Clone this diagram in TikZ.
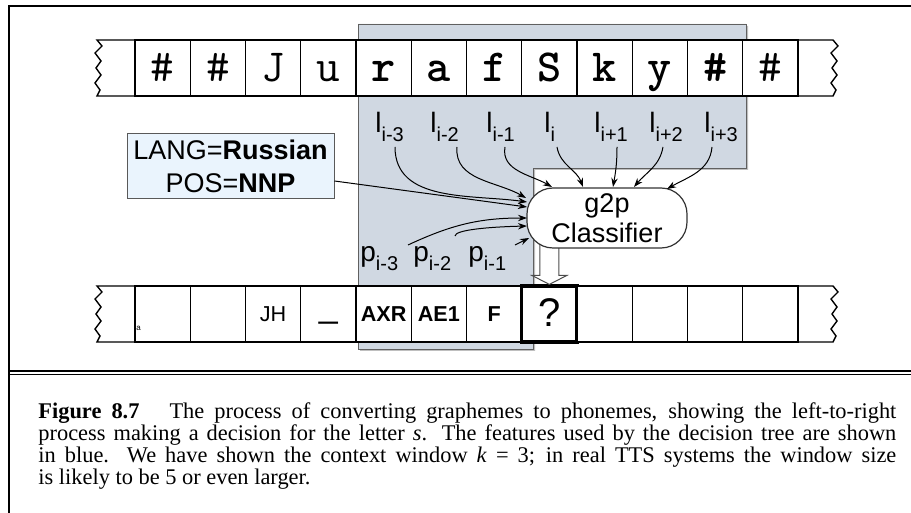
\documentclass[tikz,border=0pt]{standalone}
\usepackage{fontspec}
\setmainfont{Liberation Serif}
\setsansfont{Liberation Sans}
\usetikzlibrary{positioning,arrows.meta,calc}

\definecolor{winfill}{RGB}{208,216,226}
\definecolor{featfill}{RGB}{234,244,253}
% letter with a lowered index, as in the feature labels
\newcommand{\sublab}[2]{#1\raisebox{-4.5pt}{\fontsize{10}{10}\selectfont #2}}

\begin{document}
\begin{tikzpicture}[x=0.5pt,y=-0.5pt,
    cell/.style={draw, fill=white, line width=0.7pt, minimum width=27.625pt,
                 minimum height=28pt, inner sep=0pt},
    gcell/.style={cell, font=\ttfamily\fontsize{23}{23}\selectfont, text height=17pt, text depth=3pt},
    pcell/.style={cell, font=\sffamily\fontsize{10.8}{10.8}\selectfont, text height=10pt, text depth=2pt},
    ucell/.style={cell, font=\sffamily\fontsize{17}{17}\selectfont, text height=6pt, text depth=2pt},
    qcell/.style={cell, line width=1.6pt, font=\sffamily\fontsize{20}{20}\selectfont,
                  text height=15.5pt, text depth=2.5pt},
    feat/.style={font=\sffamily\fontsize{14}{14}\selectfont, inner sep=0pt, anchor=base west},
    ar/.style={-{Stealth[length=4.5pt,width=3.2pt]}, line width=0.5pt},
]
\useasboundingbox (0,0) rectangle (911,513);
% --- frame ---
\draw[line width=1pt] (9,513) -- (9,6) -- (911,6);
\draw[line width=0.8pt] (9,371) -- (911,371);
\draw[line width=0.8pt] (9,374.7) -- (911,374.7);
% --- context window ---
\fill[gray!50] (360,26) -- (748,26) -- (748,170) -- (535,170) -- (535,351) -- (360,351) -- cycle;
\filldraw[fill=winfill, draw=gray!75!black, line width=0.4pt]
  (358,24) -- (746,24) -- (746,168) -- (533,168) -- (533,349) -- (358,349) -- cycle;
% --- strip ends ---
\foreach \yt in {40,286}{
  \draw[line width=0.7pt, fill=white] (135,\yt) -- (97,\yt) -- ++(5,6) -- ++(-7,7) -- ++(6,8)
    -- ++(-5,7) -- ++(5,7) -- ++(-6,8) -- ++(5,7) -- ++(-3,6) -- (135,{\yt+56});
  \draw[line width=0.7pt, fill=white] (798,\yt) -- (833,\yt) -- ++(5,6) -- ++(-7,7) -- ++(6,8)
    -- ++(-5,7) -- ++(5,7) -- ++(-6,8) -- ++(5,7) -- ++(-3,6) -- (798,{\yt+56});
}
% --- letters ---
\foreach \t [count=\k] in {\#,\#,J,u,\textbf{r},\textbf{a},\textbf{f},\textbf{S},\textbf{k},\textbf{y},\textbf{\#},\#}
  \node[gcell] (g\k) at ({135+55.25*(\k-0.5)},68) {\t};
% --- phones ---
\foreach \t/\st [count=\k] in {/pcell,/pcell,JH/pcell,\_/ucell,\textbf{AXR}/pcell,\textbf{AE1}/pcell,
    \textbf{F}/pcell,?/qcell,/pcell,/pcell,/pcell,/pcell}
  \node[\st] (ph\k) at ({135+55.25*(\k-0.5)},314) {\t};
\node[font=\sffamily\fontsize{4}{4}\selectfont, inner sep=0pt, anchor=south west] (tinya) at (136,331) {a};
% --- classifier and arrow to the output ---
\draw[fill=white, draw=gray!60!black, line width=0.5pt]
  ($(ph8.north |- 240,240)+(-9.5,0)$) -- ($(ph8.north)+(-9.5,-9)$) -- ($(ph8.north)+(-17.5,-9)$)
  -- (ph8.north) -- ($(ph8.north)+(17.5,-9)$) -- ($(ph8.north)+(9.5,-9)$) -- ($(ph8.north |- 240,240)+(9.5,0)$);
\node[draw=black!80, fill=white, line width=0.6pt, rounded corners=13pt, minimum width=80pt,
      minimum height=30pt, inner sep=0pt, align=center,
      font=\sffamily\fontsize{13.5}{15}\selectfont] (clf) at (607,218) {g2p\\Classifier};
% --- extra features ---
\node[draw=gray!70!black, fill=featfill, line width=0.5pt, minimum width=103.5pt, minimum height=32.5pt,
      inner sep=0pt, align=center, font=\sffamily\fontsize{13.5}{16.3}\selectfont] (lang) at (230.5,166.5)
  {LANG=\textbf{Russian}\\POS=\textbf{NNP}};
\draw[ar] ($(lang.east)+(0,14.5)$) -- ($(clf.center)+(-80,-11)$);
% --- letter features ---
\foreach \lx/\sx/\tx/\ty/\o/\i/\s/\nm in {377/395/-80/-16/-90/172/i-3/l1, 432/457/-81/-20/-95/150/i-2/l2,
    488/505/-55/-31/-100/150/i-1/l3, 546/557/-24/-31/-80/110/i/l4, 596/617/6/-31/-90/80/i+1/l5,
    651/663/27/-31/-100/50/i+2/l6, 706/712/60/-29/-95/30/i+3/l7}{
  \node[feat] (\nm) at ({\lx-2},133) {\sublab{l}{\s}};
  \draw[ar] ($(\nm.base west)+({\sx-\lx+2},14)$) to[out=\o,in=\i] ($(clf.center)+(\tx,\ty)$);
}
% --- phone features ---
\node[feat] (p3) at (360,262) {\sublab{p}{i-3}};
\node[feat] (p2) at (413,262) {\sublab{p}{i-2}};
\node[feat] (p1) at (468,262) {\sublab{p}{i-1}};
\draw[ar] ($(p3.base west)+(48,-17)$) to[out=25,in=180] ($(clf.center)+(-80,0)$);
\draw[ar] ($(p2.base west)+(42,-26)$) .. controls +(0,-6) and +(-40,1) .. ($(clf.center)+(-80,8)$);
\draw[ar] ($(p1.base west)+(47,-17)$) -- ($(clf.center)+(-78,20)$);
% --- caption ---
\node[anchor=base west, inner sep=0pt, text width=429pt, align=justify,
      font=\fontsize{11.2}{10.85}\selectfont] (cap) at (38,419)
  {\textbf{Figure 8.7}\hspace{15pt}The process of converting graphemes to phonemes, showing the left-to-right\linebreak
   process making a decision for the letter \textit{s}. The features used by the decision tree are shown\linebreak
   in blue. We have shown the context window \textit{k}~=~3; in real TTS systems the window size\linebreak
   is likely to be 5 or even larger.};
\end{tikzpicture}
\end{document}
